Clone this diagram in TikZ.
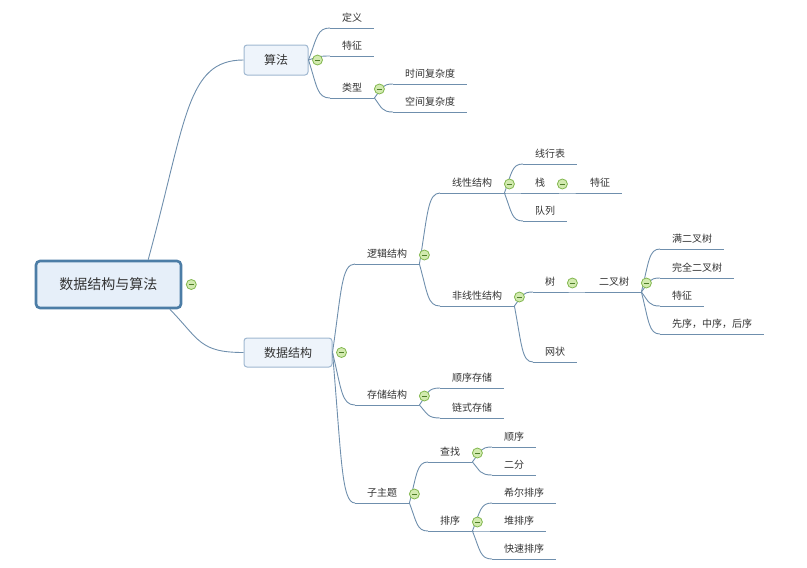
\documentclass[tikz,border=0pt]{standalone}
\usepackage{fontspec}
\setmainfont{Noto Sans CJK SC}
\usetikzlibrary{calc,positioning}

\definecolor{wireBlue}{HTML}{6F8FAD}
\definecolor{boxEdge}{HTML}{9FB7D0}
\definecolor{boxFill}{HTML}{EEF4FB}
\definecolor{rootEdge}{HTML}{4C7DA6}
\definecolor{rootFill}{HTML}{E6EFF9}
\definecolor{txtGray}{HTML}{333333}
\definecolor{foldFill}{HTML}{D2EAAF}
\definecolor{foldEdge}{HTML}{82B74F}
\definecolor{foldMark}{HTML}{4E7D28}

\begin{document}
\begin{tikzpicture}[
    x=1pt, y=-1pt,
    rootBox/.style={
        rectangle, rounded corners=4pt, draw=rootEdge, line width=2.6pt,
        fill=rootFill, minimum width=145pt, minimum height=47pt,
        font=\fontsize{14}{16}\selectfont, text=txtGray
    },
    mainBox/.style={
        rectangle, rounded corners=3pt, draw=boxEdge, line width=1pt,
        fill=boxFill, minimum height=29pt,
        font=\fontsize{12}{14}\selectfont, text=txtGray
    },
    topicTxt/.style={
        anchor=south west, inner xsep=12pt, inner ysep=0pt, minimum height=20pt,
        font=\fontsize{10}{12}\selectfont, text=txtGray
    },
    wire/.style={draw=wireBlue, line width=0.9pt},
    branch/.style={
        to path={let \p1=(\tikztostart), \p2=(\tikztotarget) in
            .. controls ({\x1+0.4*((\x2)-(\x1))},{\y1+0.7*((\y2)-(\y1))})
            and ({\x1+0.4*((\x2)-(\x1))},\y2) .. (\tikztotarget)}
    },
    foldDot/.style={
        circle, draw=foldEdge, line width=0.8pt, fill=foldFill,
        minimum size=10pt, inner sep=0pt,
        path picture={\draw[foldMark, line width=0.9pt]
            ([xshift=-2.6pt]path picture bounding box.center) --
            ([xshift=2.6pt]path picture bounding box.center);}
    }
]
\useasboundingbox (0,0) rectangle (807,568);

% Central topic and main branches
\node[rootBox] (root) at (108.5,284.5) {数据结构与算法};
\node[mainBox, minimum width=64pt, minimum height=30pt] (alg) at (276,60) {算法};
\node[mainBox, minimum width=88pt] (ds) at (288,352.5) {数据结构};

% Algorithm subtopics
\node[topicTxt] (def) at (330,28) {定义};
\node[topicTxt] (feat) at (330,56) {特征};
\node[topicTxt] (kind) at (330,98) {类型};
\node[topicTxt] (ktime) at (393,84) {时间复杂度};
\node[topicTxt] (kspace) at (393,112) {空间复杂度};

% Logical structure
\node[topicTxt] (logic) at (355,264) {逻辑结构};
\node[topicTxt] (lin) at (440,193) {线性结构};
\node[topicTxt] (list) at (523,164) {线行表};
\node[topicTxt] (stack) at (523,193) {栈};
\node[topicTxt] (stfeat) at (578,193) {特征};
\node[topicTxt] (queue) at (523,221) {队列};
\node[topicTxt] (nonlin) at (440,306) {非线性结构};
\node[topicTxt] (tree) at (533,292) {树};
\node[topicTxt] (bin) at (587,292) {二叉树};
\node[topicTxt] (full) at (660,249) {满二叉树};
\node[topicTxt] (comp) at (660,278) {完全二叉树};
\node[topicTxt] (bfeat) at (660,306) {特征};
\node[topicTxt] (order) at (660,334) {先序，中序，后序};
\node[topicTxt] (net) at (533,362) {网状};

% Storage structure
\node[topicTxt] (store) at (355,405) {存储结构};
\node[topicTxt] (seq) at (440,388) {顺序存储};
\node[topicTxt] (link) at (440,418) {链式存储};

% Subtopic: search and sort
\node[topicTxt] (sub) at (355,503) {子主题};
\node[topicTxt] (find) at (428,462) {查找};
\node[topicTxt] (fseq) at (492,447) {顺序};
\node[topicTxt] (fbin) at (492,475) {二分};
\node[topicTxt] (sort) at (428,531) {排序};
\node[topicTxt] (shell) at (492,503) {希尔排序};
\node[topicTxt] (heap) at (492,531) {堆排序};
\node[topicTxt] (quick) at (492,559) {快速排序};

% Underlines
\foreach \n in {def,feat,kind,ktime,kspace,logic,lin,list,stack,stfeat,queue,
    nonlin,tree,bin,full,comp,bfeat,order,net,store,seq,link,sub,find,fseq,
    fbin,sort,shell,heap,quick}
    \draw[wire] (\n.south west) -- (\n.south east);

% Branches
\draw[wire, branch] (root.32) to (alg.west);
\draw[wire, branch] (root.-22) to (ds.west);
\foreach \p/\c in {alg/def, alg/feat, alg/kind, ds/logic, ds/store, ds/sub}
    \draw[wire, branch] (\p.east) to (\c.south west);
\foreach \p/\c in {kind/ktime, kind/kspace, logic/lin, logic/nonlin, lin/list,
    lin/stack, lin/queue, stack/stfeat, nonlin/tree, nonlin/net, tree/bin,
    bin/full, bin/comp, bin/bfeat, bin/order, store/seq, store/link, sub/find,
    sub/sort, find/fseq, find/fbin, sort/shell, sort/heap, sort/quick}
    \draw[wire, branch] (\p.south east) to (\c.south west);

% Collapse markers
\node[foldDot] (root-fold) at ($(root.east)+(9,0)$) {};
\node[foldDot] (alg-fold) at ($(alg.east)+(9,0)$) {};
\node[foldDot] (ds-fold) at ($(ds.east)+(9,0)$) {};
\foreach \p in {kind,logic,lin,stack,nonlin,tree,bin,store,sub,find,sort}
    \node[foldDot] (\p-fold) at ($(\p.south east)+(5,-9)$) {};

\end{tikzpicture}
\end{document}
